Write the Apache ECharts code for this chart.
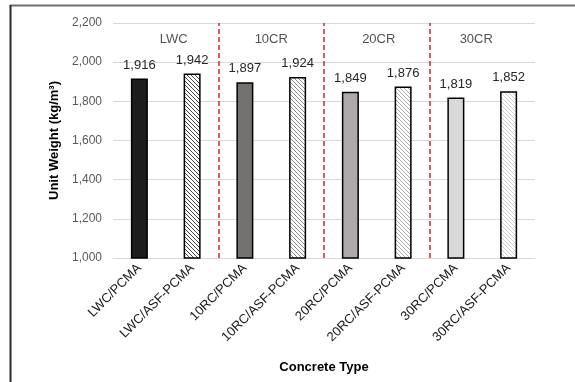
<!DOCTYPE html>
<html>
<head>
<meta charset="utf-8">
<script src="https://cdn.jsdelivr.net/npm/echarts@6/dist/echarts.min.js"></script>
<style>
html,body{margin:0;padding:0;background:#fff;}
#c{width:575px;height:382px;}
</style>
</head>
<body>
<div id="c"></div>
<script>
// ---- data ----
var categories = ['LWC/PCMA','LWC/ASF-PCMA','10RC/PCMA','10RC/ASF-PCMA','20RC/PCMA','20RC/ASF-PCMA','30RC/PCMA','30RC/ASF-PCMA'];
var unitWeight = [1916, 1942, 1897, 1924, 1849, 1876, 1819, 1852];
var groupNames = ['LWC','10CR','20CR','30CR'];
var groupCenters = [1, 3, 5, 7];      // in category-slot units
var groupSeparators = [2, 4, 6];      // boundaries between groups
var groupLabelLevel = 2115;
var yTicks = {min: 1000, max: 2200, interval: 200};

// ---- styles ----
var font = 'Liberation Sans, Arial, sans-serif';
function hatch(lineColor){
  var s = 4;
  var cv = document.createElement('canvas');
  cv.width = s; cv.height = s;
  var ctx = cv.getContext('2d');
  ctx.fillStyle = '#ffffff';
  ctx.fillRect(0,0,s,s);
  ctx.strokeStyle = lineColor;
  ctx.lineWidth = 1;
  ctx.beginPath();
  ctx.moveTo(-1,-1); ctx.lineTo(s+1,s+1);
  ctx.moveTo(-1,s-1); ctx.lineTo(1,s+1);
  ctx.moveTo(s-1,-1); ctx.lineTo(s+1,1);
  ctx.stroke();
  return {image: cv, repeat: 'repeat'};
}
var fills = ['#1c1c1c', hatch('#4a4a4a'), '#767171', hatch('#8a8a8a'), '#aeaaaa', hatch('#aaaaaa'), '#d9d9d9', hatch('#d0d0d0')];
var labelOffsets = [[8,0],[0,0],[2,0],[-6,0]];

var chart = echarts.init(document.getElementById('c'), null, {renderer:'canvas'});
var option = {
  animation: false,
  backgroundColor: '#ffffff',
  textStyle: {fontFamily: font},
  grid: {left: 113, right: 40, top: 23, bottom: 124, containLabel: false},
  xAxis: [{
    type: 'category',
    data: categories,
    name: 'Concrete Type',
    nameLocation: 'middle',
    nameGap: 103,
    nameTextStyle: {fontFamily: font, fontSize: 13, fontWeight: 'bold', color: '#000'},
    axisLine: {lineStyle: {color: '#d9d9d9', width: 1}},
    axisTick: {show: false},
    axisLabel: {rotate: 45, fontSize: 13, color: '#1a1a1a', margin: 8, fontFamily: font, interval: 0}
  },{
    type: 'value', min: 0, max: 8, show: false
  }],
  yAxis: {
    type: 'value',
    min: yTicks.min, max: yTicks.max, interval: yTicks.interval,
    name: 'Unit Weight (kg/m³)',
    nameLocation: 'middle',
    nameGap: 46,
    nameTextStyle: {fontFamily: font, fontSize: 13, fontWeight: 'bold', color: '#000'},
    axisLine: {show: false},
    axisTick: {show: false},
    splitLine: {lineStyle: {color: '#d9d9d9', width: 1}},
    axisLabel: {fontSize: 12, color: '#595959', margin: 11, fontFamily: font,
      formatter: function(v){ return v.toLocaleString('en-US'); }}
  },
  series: [{
    type: 'bar',
    xAxisIndex: 0,
    barWidth: 17,
    data: unitWeight.map(function(v,i){
      return {value: v, itemStyle: {color: fills[i], borderColor: '#000', borderWidth: 1.5}};
    }),
    label: {show: true, position: 'top', distance: 7, fontSize: 13, color: '#262626', fontFamily: font,
      formatter: function(p){ return p.value.toLocaleString('en-US'); }}
  },{
    type: 'scatter',
    xAxisIndex: 1,
    symbolSize: 0,
    silent: true,
    data: groupCenters.map(function(x,i){
      return {value: [x, groupLabelLevel], name: groupNames[i],
        label: {offset: labelOffsets[i]}};
    }),
    label: {show: true, position: 'inside', fontSize: 13, color: '#262626', fontFamily: font,
      formatter: function(p){ return p.name; }},
    markLine: {
      silent: true,
      symbol: ['none','none'],
      label: {show: false},
      lineStyle: {color: '#d6262b', type: [5,3], width: 1.5},
      data: groupSeparators.map(function(x){ return {xAxis: x}; })
    }
  }],
  graphic: [
    {type: 'line', shape: {x1: 10, y1: 5.5, x2: 575, y2: 5.5}, style: {stroke: '#6f6f6f', lineWidth: 2}, silent: true},
    {type: 'line', shape: {x1: 10.5, y1: 5, x2: 10.5, y2: 382}, style: {stroke: '#2b2b2b', lineWidth: 2}, silent: true}
  ]
};
chart.setOption(option);
</script>
</body>
</html>
